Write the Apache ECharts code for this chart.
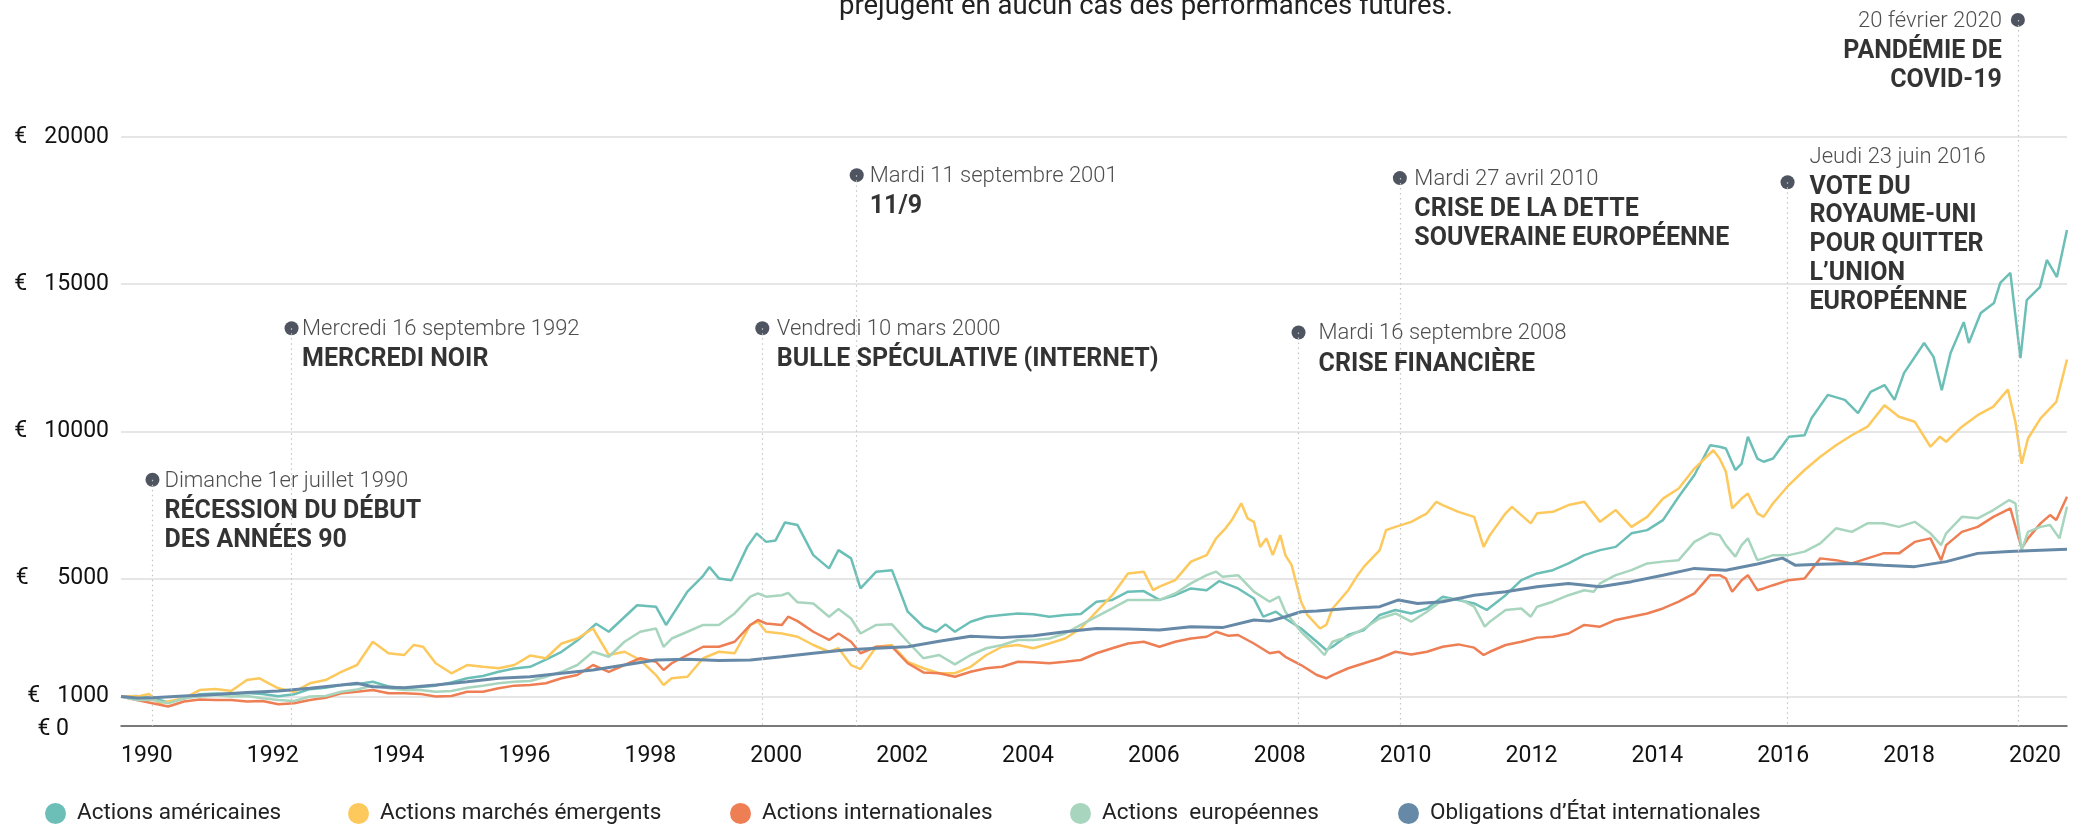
<!DOCTYPE html>
<html>
<head>
<meta charset="utf-8">
<script src="https://cdn.jsdelivr.net/npm/echarts@6/dist/echarts.min.js"></script>
<style>
  html, body { margin: 0; padding: 0; background: #fff; }
  #chart { width: 2081px; height: 826px; }
</style>
</head>
<body>
<div id="chart"></div>
<script>
// values, [year, euros]
const seriesNames = ['Actions américaines', 'Actions marchés émergents', 'Actions internationales', 'Actions  européennes', 'Obligations d’État internationales'];

const actionsAmericaines = [[1990.0,1000],[1990.25,1020],[1990.5,960],[1990.75,800],[1991.0,930],[1991.25,1080],[1991.5,1100],[1991.75,1090],[1992.0,1120],[1992.25,1090],[1992.5,1010],[1992.75,1080],[1993.0,1250],[1993.25,1300],[1993.5,1390],[1993.75,1420],[1994.0,1500],[1994.25,1340],[1994.5,1280],[1994.75,1320],[1995.0,1370],[1995.25,1480],[1995.5,1620],[1995.75,1700],[1996.0,1840],[1996.25,1950],[1996.5,2010],[1996.75,2250],[1997.0,2520],[1997.25,2900],[1997.55,3470],[1997.75,3200],[1998.0,3700],[1998.2,4100],[1998.5,4050],[1998.66,3430],[1999.0,4560],[1999.25,5100],[1999.35,5400],[1999.5,5010],[1999.7,4950],[1999.95,6080],[2000.1,6540],[2000.25,6250],[2000.4,6300],[2000.55,6910],[2000.75,6820],[2001.0,5800],[2001.25,5350],[2001.4,5970],[2001.6,5690],[2001.75,4670],[2002.0,5240],[2002.25,5290],[2002.5,3880],[2002.75,3370],[2002.95,3200],[2003.1,3450],[2003.25,3200],[2003.5,3540],[2003.75,3710],[2004.0,3770],[2004.25,3820],[2004.5,3790],[2004.75,3710],[2005.0,3770],[2005.25,3800],[2005.5,4220],[2005.75,4280],[2006.0,4560],[2006.25,4580],[2006.5,4280],[2006.75,4440],[2007.0,4670],[2007.25,4610],[2007.45,4920],[2007.75,4670],[2008.0,4330],[2008.15,3710],[2008.35,3880],[2008.5,3650],[2008.75,3310],[2009.0,2860],[2009.15,2580],[2009.25,2690],[2009.5,3090],[2009.75,3260],[2010.0,3770],[2010.25,3940],[2010.5,3820],[2010.75,3990],[2011.0,4390],[2011.25,4280],[2011.5,4160],[2011.7,3940],[2012.0,4440],[2012.25,4950],[2012.5,5180],[2012.75,5290],[2013.0,5520],[2013.25,5800],[2013.5,5970],[2013.75,6080],[2014.0,6540],[2014.25,6650],[2014.5,6990],[2014.75,7780],[2015.0,8520],[2015.25,9530],[2015.4,9480],[2015.5,9420],[2015.65,8690],[2015.75,8910],[2015.85,9820],[2016.0,9080],[2016.1,8970],[2016.25,9080],[2016.5,9820],[2016.75,9870],[2016.86,10450],[2017.12,11240],[2017.39,11070],[2017.6,10620],[2017.8,11340],[2018.02,11575],[2018.18,11070],[2018.33,11980],[2018.65,13000],[2018.8,12530],[2018.93,11400],[2019.07,12660],[2019.28,13710],[2019.36,13000],[2019.55,14020],[2019.76,14360],[2019.86,15040],[2020.02,15380],[2020.18,12490],[2020.28,14460],[2020.49,14900],[2020.6,15820],[2020.76,15240],[2020.92,16840]];

const actionsEmergents = [[1990.0,1000],[1990.3,1020],[1990.45,1085],[1990.6,770],[1991.0,940],[1991.25,1220],[1991.5,1255],[1991.75,1190],[1992.0,1560],[1992.2,1620],[1992.5,1280],[1992.75,1160],[1993.0,1450],[1993.25,1560],[1993.5,1840],[1993.75,2070],[1994.0,2860],[1994.25,2470],[1994.5,2410],[1994.65,2750],[1994.8,2690],[1995.0,2130],[1995.25,1790],[1995.5,2070],[1995.75,2010],[1996.0,1960],[1996.25,2070],[1996.5,2390],[1996.75,2300],[1997.0,2800],[1997.25,2970],[1997.5,3310],[1997.75,2410],[1998.0,2520],[1998.25,2240],[1998.5,1730],[1998.62,1390],[1998.75,1620],[1999.0,1670],[1999.25,2300],[1999.5,2520],[1999.75,2470],[2000.0,3430],[2000.12,3540],[2000.25,3200],[2000.5,3140],[2000.75,3030],[2001.0,2750],[2001.25,2520],[2001.4,2640],[2001.6,2070],[2001.75,1930],[2002.0,2690],[2002.25,2750],[2002.5,2180],[2002.75,1960],[2003.0,1790],[2003.25,1790],[2003.5,2010],[2003.75,2410],[2004.0,2690],[2004.25,2750],[2004.5,2640],[2004.75,2800],[2005.0,2970],[2005.25,3310],[2005.5,3880],[2005.75,4440],[2006.0,5180],[2006.25,5240],[2006.4,4610],[2006.5,4730],[2006.75,4950],[2007.0,5580],[2007.25,5800],[2007.4,6370],[2007.55,6710],[2007.65,6990],[2007.8,7560],[2007.9,7050],[2008.0,6930],[2008.1,6080],[2008.2,6370],[2008.3,5800],[2008.42,6480],[2008.5,5800],[2008.6,5460],[2008.75,4220],[2008.85,3770],[2009.05,3310],[2009.15,3430],[2009.25,3990],[2009.5,4610],[2009.65,5120],[2009.75,5410],[2010.0,5970],[2010.1,6650],[2010.25,6760],[2010.5,6930],[2010.75,7220],[2010.9,7610],[2011.0,7500],[2011.25,7270],[2011.5,7100],[2011.65,6080],[2011.75,6480],[2012.0,7220],[2012.1,7440],[2012.25,7160],[2012.4,6880],[2012.5,7220],[2012.75,7270],[2013.0,7500],[2013.25,7610],[2013.5,6930],[2013.75,7330],[2014.0,6760],[2014.25,7100],[2014.5,7720],[2014.75,8060],[2015.0,8740],[2015.3,9360],[2015.4,9080],[2015.5,8630],[2015.6,7390],[2015.75,7720],[2015.85,7890],[2016.0,7220],[2016.1,7100],[2016.25,7560],[2016.5,8180],[2016.75,8690],[2017.0,9140],[2017.25,9530],[2017.5,9870],[2017.75,10160],[2018.02,10890],[2018.25,10500],[2018.5,10330],[2018.75,9480],[2018.9,9820],[2019.0,9650],[2019.25,10160],[2019.5,10550],[2019.75,10840],[2019.98,11420],[2020.1,10330],[2020.2,8900],[2020.3,9760],[2020.5,10440],[2020.75,11000],[2020.92,12440]];

const actionsInternationales = [[1990.0,1000],[1990.25,880],[1990.5,770],[1990.75,660],[1991.0,830],[1991.25,900],[1991.5,880],[1991.75,880],[1992.0,830],[1992.25,850],[1992.5,740],[1992.75,770],[1993.0,880],[1993.25,960],[1993.5,1110],[1993.75,1160],[1994.0,1220],[1994.25,1110],[1994.5,1110],[1994.75,1090],[1995.0,1000],[1995.25,1020],[1995.5,1160],[1995.75,1160],[1996.0,1280],[1996.25,1370],[1996.5,1390],[1996.75,1450],[1997.0,1620],[1997.25,1730],[1997.5,2070],[1997.75,1840],[1998.0,2070],[1998.25,2300],[1998.5,2180],[1998.62,1900],[1998.75,2130],[1999.0,2410],[1999.25,2690],[1999.5,2690],[1999.75,2860],[2000.0,3430],[2000.12,3600],[2000.25,3480],[2000.5,3430],[2000.6,3710],[2000.75,3560],[2001.0,3200],[2001.25,2920],[2001.4,3140],[2001.6,2860],[2001.75,2470],[2002.0,2690],[2002.25,2690],[2002.5,2130],[2002.75,1820],[2003.0,1790],[2003.25,1670],[2003.5,1840],[2003.75,1960],[2004.0,2010],[2004.25,2180],[2004.5,2160],[2004.75,2130],[2005.0,2180],[2005.25,2240],[2005.5,2470],[2005.75,2640],[2006.0,2800],[2006.25,2860],[2006.5,2690],[2006.75,2860],[2007.0,2970],[2007.25,3030],[2007.4,3200],[2007.6,3060],[2007.75,3090],[2008.0,2800],[2008.25,2470],[2008.4,2520],[2008.5,2350],[2008.75,2070],[2009.0,1730],[2009.15,1620],[2009.25,1730],[2009.5,1960],[2009.75,2130],[2010.0,2300],[2010.25,2520],[2010.5,2430],[2010.75,2520],[2011.0,2690],[2011.25,2770],[2011.5,2660],[2011.65,2410],[2011.75,2520],[2012.0,2750],[2012.25,2860],[2012.5,3000],[2012.75,3030],[2013.0,3140],[2013.25,3430],[2013.5,3370],[2013.75,3600],[2014.0,3710],[2014.25,3820],[2014.5,3990],[2014.75,4220],[2015.0,4500],[2015.25,5120],[2015.4,5120],[2015.5,5010],[2015.6,4560],[2015.75,4950],[2015.85,5120],[2016.0,4610],[2016.1,4670],[2016.25,4780],[2016.5,4950],[2016.75,5010],[2017.0,5690],[2017.25,5630],[2017.5,5520],[2017.75,5690],[2018.0,5860],[2018.25,5860],[2018.5,6250],[2018.75,6370],[2018.92,5630],[2019.0,6140],[2019.25,6590],[2019.5,6760],[2019.75,7100],[2020.02,7390],[2020.2,6030],[2020.3,6370],[2020.5,6880],[2020.65,7160],[2020.75,6990],[2020.92,7780]];

const actionsEuropeennes = [[1990.0,1000],[1990.25,880],[1990.5,880],[1990.75,770],[1991.0,940],[1991.25,1000],[1991.5,1050],[1991.75,1000],[1992.0,1020],[1992.25,940],[1992.5,880],[1992.75,850],[1993.0,1000],[1993.25,1020],[1993.5,1160],[1993.75,1240],[1994.0,1370],[1994.25,1280],[1994.5,1220],[1994.75,1220],[1995.0,1160],[1995.25,1190],[1995.5,1300],[1995.75,1370],[1996.0,1450],[1996.25,1500],[1996.5,1530],[1996.75,1670],[1997.0,1840],[1997.25,2070],[1997.5,2520],[1997.75,2350],[1998.0,2860],[1998.25,3200],[1998.5,3310],[1998.62,2690],[1998.75,2970],[1999.0,3200],[1999.25,3430],[1999.5,3430],[1999.75,3820],[2000.0,4390],[2000.12,4500],[2000.25,4390],[2000.5,4440],[2000.6,4520],[2000.75,4200],[2001.0,4160],[2001.25,3710],[2001.4,3970],[2001.6,3650],[2001.75,3140],[2002.0,3430],[2002.25,3450],[2002.5,2860],[2002.75,2300],[2003.0,2410],[2003.25,2090],[2003.5,2410],[2003.75,2640],[2004.0,2750],[2004.25,2920],[2004.5,2920],[2004.75,2970],[2005.0,3140],[2005.25,3430],[2005.5,3710],[2005.75,3990],[2006.0,4280],[2006.25,4280],[2006.5,4280],[2006.75,4500],[2007.0,4840],[2007.25,5120],[2007.4,5240],[2007.5,5070],[2007.75,5120],[2008.0,4560],[2008.25,4220],[2008.4,4390],[2008.5,3880],[2008.75,3200],[2009.0,2690],[2009.12,2410],[2009.25,2860],[2009.5,3030],[2009.75,3310],[2010.0,3650],[2010.25,3820],[2010.5,3540],[2010.75,3880],[2011.0,4280],[2011.25,4330],[2011.5,4050],[2011.67,3370],[2011.75,3540],[2012.0,3940],[2012.25,3990],[2012.4,3710],[2012.5,4050],[2012.75,4220],[2013.0,4440],[2013.25,4610],[2013.4,4560],[2013.5,4840],[2013.75,5120],[2014.0,5290],[2014.25,5520],[2014.5,5580],[2014.75,5630],[2015.0,6250],[2015.25,6540],[2015.4,6480],[2015.5,6140],[2015.65,5750],[2015.75,6140],[2015.85,6370],[2016.0,5630],[2016.1,5690],[2016.25,5800],[2016.5,5800],[2016.75,5920],[2017.0,6200],[2017.25,6710],[2017.5,6590],[2017.75,6880],[2018.0,6880],[2018.25,6760],[2018.5,6930],[2018.75,6540],[2018.92,6140],[2019.0,6540],[2019.25,7100],[2019.5,7050],[2019.75,7330],[2020.0,7670],[2020.1,7560],[2020.2,5970],[2020.3,6590],[2020.5,6760],[2020.65,6820],[2020.8,6370],[2020.92,7440]];

const obligationsEtat = [[1990.0,1000],[1990.25,950],[1990.5,960],[1991.0,1020],[1991.5,1070],[1992.0,1140],[1992.5,1190],[1993.0,1280],[1993.5,1390],[1993.75,1450],[1994.0,1330],[1994.5,1300],[1995.0,1390],[1995.5,1500],[1996.0,1620],[1996.5,1670],[1997.0,1790],[1997.5,1900],[1998.0,2070],[1998.5,2240],[1999.0,2270],[1999.5,2220],[2000.0,2240],[2000.5,2350],[2001.0,2470],[2001.5,2580],[2002.0,2640],[2002.5,2690],[2003.0,2880],[2003.5,3050],[2004.0,3000],[2004.5,3060],[2005.0,3200],[2005.5,3310],[2006.0,3290],[2006.5,3260],[2007.0,3370],[2007.5,3340],[2008.0,3600],[2008.25,3560],[2008.5,3710],[2008.75,3880],[2009.0,3900],[2009.5,3990],[2010.0,4050],[2010.3,4280],[2010.6,4160],[2011.0,4220],[2011.5,4440],[2012.0,4560],[2012.5,4730],[2013.0,4840],[2013.5,4730],[2014.0,4900],[2014.5,5120],[2015.0,5350],[2015.5,5290],[2016.0,5500],[2016.4,5700],[2016.6,5460],[2017.0,5490],[2017.5,5520],[2018.0,5460],[2018.5,5410],[2019.0,5580],[2019.5,5860],[2020.0,5920],[2020.5,5970],[2020.92,6000]];

const yTicks = [0, 1000, 5000, 10000, 15000, 20000];

// annotated events
const eventYears = [1990.5, 1992.71, 2000.19, 2001.69, 2008.71, 2010.32, 2016.48, 2020.14];
const eventDays = ['Dimanche 1er juillet 1990', 'Mercredi 16 septembre 1992', 'Vendredi 10 mars 2000', 'Mardi 11 septembre 2001', 'Mardi 16 septembre 2008', 'Mardi 27 avril 2010', 'Jeudi 23 juin 2016', '20 février 2020'];
const eventTitles = [
    ['RÉCESSION DU DÉBUT', 'DES ANNÉES 90'],
    ['MERCREDI NOIR'],
    ['BULLE SPÉCULATIVE (INTERNET)'],
    ['11/9'],
    ['CRISE FINANCIÈRE'],
    ['CRISE DE LA DETTE', 'SOUVERAINE EUROPÉENNE'],
    ['VOTE DU', 'ROYAUME-UNI', 'POUR QUITTER', 'L’UNION', 'EUROPÉENNE'],
    ['PANDÉMIE DE', 'COVID-19']
];

/* layout of the annotations: height of the dot on the value axis, label offset */
const eventLayout = [
    { level: 8360, pos: [19, -7.5], align: 'left' },
    { level: 13500, pos: [17.5, -7.5], align: 'left' },
    { level: 13500, pos: [21.5, -7.5], align: 'left' },
    { level: 18700, pos: [20, -7.5], align: 'left' },
    { level: 13360, pos: [27, -7.5], align: 'left' },
    { level: 18600, pos: [21.5, -7.5], align: 'left' },
    { level: 18460, pos: [29, -34], align: 'left' },
    { level: 23970, pos: [-9, -7.5], align: 'right' }
];

const COLORS = ['#6cbfb7', '#fdc85c', '#ee7e54', '#a8d5be', '#6689a8'];
const FONT = 'Roboto';

let chart = echarts.init(document.getElementById('chart'));

let lineData = [actionsAmericaines, actionsEmergents, actionsInternationales, actionsEuropeennes, obligationsEtat];
let legendLeft = [40, 343, 725, 1065, 1393];

let series = lineData.map(function (d, i) {
    return {
        name: seriesNames[i],
        type: 'line',
        data: d,
        showSymbol: false,
        z: 3,
        color: COLORS[i],
        lineStyle: { width: i === 4 ? 3 : 2.5, color: COLORS[i] }
    };
});

series.unshift({
    name: 'events',
    type: 'scatter',
    z: 2,
    clip: false,
    symbol: 'circle',
    symbolSize: 14,
    itemStyle: { color: '#222a3a' },
    data: eventYears.map(function (y, i) {
        let lay = eventLayout[i];
        let text = '{d|' + eventDays[i] + '}\n' + eventTitles[i].map(function (t) { return '{b|' + t + '}'; }).join('\n');
        return {
            value: [y, lay.level],
            label: {
                show: true,
                position: lay.pos,
                align: lay.align,
                verticalAlign: 'top',
                formatter: text,
                rich: {
                    d: { fontFamily: FONT, fontSize: 22, fontWeight: 300, color: '#222', lineHeight: 32, align: lay.align },
                    b: { fontFamily: FONT, fontSize: 25, fontWeight: 'bold', color: '#000', lineHeight: 28.7, align: lay.align }
                }
            }
        };
    }),
    markLine: {
        silent: true,
        symbol: ['none', 'none'],
        label: { show: false },
        lineStyle: { color: '#c4c4c4', type: [1.5, 3.5], width: 1.2 },
        data: eventYears.map(function (y, i) {
            return [{ coord: [y, eventLayout[i].level] }, { coord: [y, 0] }];
        })
    }
});

let option = {
    animation: false,
    backgroundColor: '#fff',
    grid: { left: 121, right: 14, top: 19, bottom: 100 },
    xAxis: {
        type: 'value',
        min: 1990,
        max: 2020.92,
        interval: 2,
        axisLine: { lineStyle: { color: '#555', width: 1.5 } },
        axisTick: { show: false },
        splitLine: { show: false },
        axisLabel: {
            showMaxLabel: false,
            align: 'left',
            margin: 19,
            fontFamily: FONT,
            fontSize: 23,
            color: '#111',
            formatter: function (v) { return Number.isInteger(v) ? String(v) : ''; }
        }
    },
    yAxis: {
        type: 'value',
        min: 0,
        max: 24000,
        interval: 1000,
        axisLine: { show: false },
        axisTick: { show: false, customValues: yTicks },
        splitLine: { show: true, lineStyle: { color: '#e6e6e6', width: 2 } },
        axisLabel: {
            customValues: yTicks,
            margin: 12,
            fontFamily: FONT,
            fontSize: 23,
            color: '#111',
            formatter: function (v) {
                if (v === 0) return '{z|€ 0}';
                if (v === 1000) return '€   ' + v;
                if (v < 10000) return '€     ' + v;
                return '€   ' + v;
            },
            rich: {
                z: { fontFamily: FONT, fontSize: 23, color: '#111', padding: [6, 40, 0, 0] }
            }
        }
    },
    legend: seriesNames.map(function (name, i) {
        return {
            data: [name],
            left: legendLeft[i],
            top: 797,
            icon: 'circle',
            itemWidth: 21,
            itemHeight: 21,
            selectedMode: false,
            itemStyle: { borderWidth: 0 },
            textStyle: { fontFamily: FONT, fontSize: 22.5, color: '#222', padding: [0, 0, 0, 6] }
        };
    }),
    graphic: [{
        type: 'text',
        silent: true,
        style: {
            text: 'préjugent en aucun cas des performances futures.',
            x: 1146,
            y: 21,
            align: 'center',
            verticalAlign: 'bottom',
            fontFamily: FONT,
            fontSize: 27.5,
            fill: '#222'
        }
    }],
    series: series
};

chart.setOption(option);

window.addEventListener('resize', function () {
    chart.resize();
});
</script>
</body>
</html>
